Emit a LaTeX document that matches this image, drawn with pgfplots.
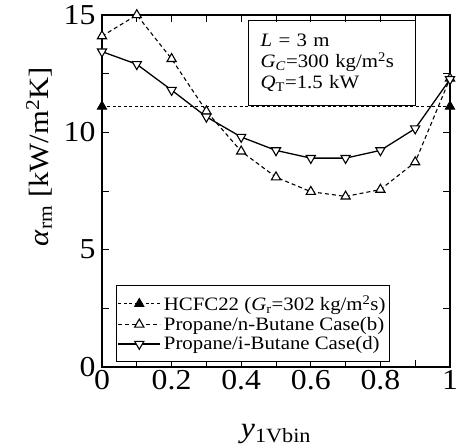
\documentclass[border=0pt]{standalone}
\usepackage{fontspec}
\setmainfont[FakeStretch=1.1]{Liberation Serif}
\usepackage{pgfplots}
\pgfplotsset{compat=1.18}
\begin{document}
\begin{tikzpicture}
\begin{axis}[
  scale only axis, width=348bp, height=352bp,
  xmin=0, xmax=1, ymin=0, ymax=15,
  xtick={0,0.2,0.4,0.6,0.8,1}, xticklabels={0,0.2,0.4,0.6,0.8,1},
  minor xtick={0.1,0.3,0.5,0.7,0.9},
  ytick={0,5,10,15}, minor ytick={2.5,7.5,12.5},
  tick align=inside, major tick length=7bp, minor tick length=7bp,
  axis line style={line width=2bp},
  every tick/.style={line width=0.9bp, black},
  ticklabel style={font=\fontsize{29}{31}\selectfont},
  yticklabel style={xshift=-3bp},
  /pgf/number format/assume math mode=true,
  xlabel={\fontsize{29}{31}\selectfont\textit{y}\textsubscript{1Vbin}},
  xlabel style={at={(axis description cs:0.5,0)}, anchor=base, yshift=-70bp},
  ylabel={\fontsize{28}{30}\selectfont\textit{α}\textsubscript{rm} [kW/m\textsuperscript{2}K]},
  ylabel style={at={(axis description cs:-0.155,0.597)}, anchor=base, rotate=0},
  clip=false,
  legend cell align=left,
  legend image code/.code={\draw[mark repeat=2,mark phase=2,#1] plot coordinates {(0bp,0bp) (21bp,0bp) (42bp,0bp)};},
  legend style={at={(rel axis cs:0.0402,0.0142)}, anchor=south west,
    draw=black, line width=1.3bp, inner xsep=1bp, inner ysep=8bp,
    font=\fontsize{19}{21}\selectfont, row sep=1bp,
    nodes={inner xsep=3bp, inner ysep=2bp}},
]
\addplot[black, line width=1bp, dash pattern=on 3bp off 2.5bp, mark=triangle*, mark size=5.3bp,
  mark options={solid, fill=black}] coordinates {(0,11.1) (1,11.1)};
\addlegendentry{HCFC22 (\textit{G}\textsubscript{r}=302 kg/m\textsuperscript{2}s)}
\addplot[black, line width=1.1bp, dash pattern=on 4bp off 3bp, mark=triangle*, mark size=5.3bp,
  mark options={solid, fill=white, line width=1.1bp}] coordinates {
  (0,14.1) (0.1,15.0) (0.2,13.13) (0.3,10.9) (0.4,9.19) (0.5,8.09) (0.6,7.47) (0.7,7.27) (0.8,7.56) (0.9,8.73) (1.0,12.3)};
\addlegendentry{Propane/n-Butane Case(b)}
\addplot[black, line width=1.3bp, mark=triangle*, mark size=5.3bp,
  mark options={solid, fill=white, line width=1.1bp, rotate=180}] coordinates {
  (0,13.44) (0.1,12.9) (0.2,11.8) (0.3,10.66) (0.4,9.8) (0.5,9.23) (0.6,8.9) (0.7,8.9) (0.8,9.23) (0.9,10.16) (1.0,12.26)};
\addlegendentry{Propane/i-Butane Case(d)}
\node[draw, line width=1.3bp, anchor=north west, minimum width=167bp, minimum height=85bp,
  text width=143bp, inner xsep=12bp, align=left, font=\fontsize{19}{21}\selectfont]
  at (rel axis cs:0.4195,0.9858)
  {\textit{L} = 3 m\\ \textit{G}\textsubscript{\textit{C}}=300 kg/m\textsuperscript{2}s\\ \textit{Q}\textsubscript{T}=1.5 kW};
\end{axis}
\pgfresetboundingbox
\path[use as bounding box] (-102bp,-81bp) rectangle (355bp,367bp);
\end{tikzpicture}
\end{document}
